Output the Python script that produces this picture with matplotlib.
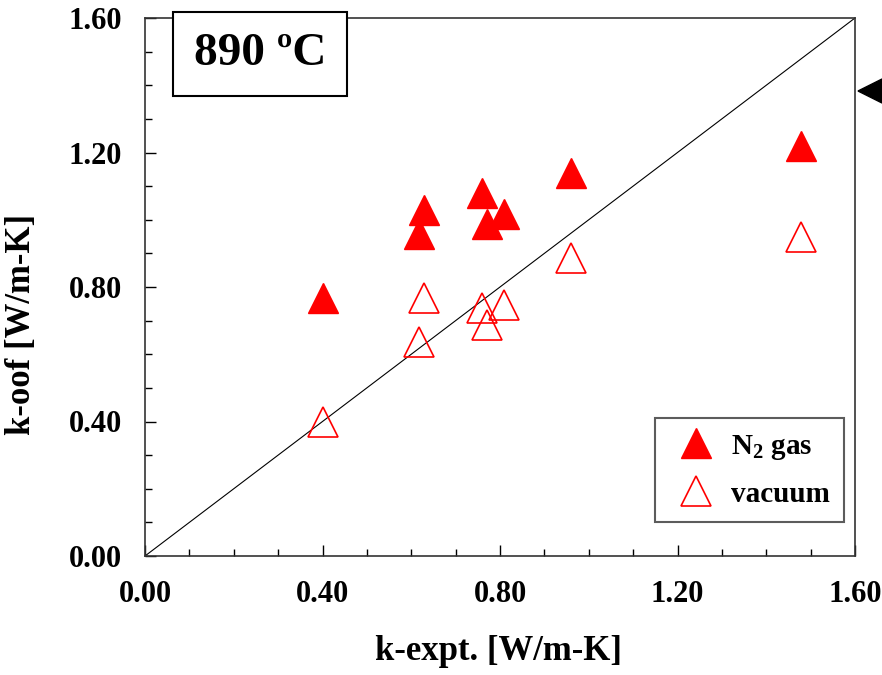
import matplotlib
matplotlib.use("Agg")
import matplotlib.pyplot as plt
from matplotlib.patches import Polygon
import numpy as np

# Data
k_expt = [0.40, 0.617, 0.629, 0.759, 0.770, 0.809, 0.959, 1.478]
k_oof_n2 = [0.767, 0.958, 1.029, 1.080, 0.987, 1.017, 1.139, 1.219]
k_expt_vac = [0.40, 0.617, 0.629, 0.759, 0.770, 0.809, 0.959, 1.478]
k_oof_vac = [0.399, 0.636, 0.767, 0.738, 0.687, 0.746, 0.886, 0.949]
ticks = [0.0, 0.4, 0.8, 1.2, 1.6]
tick_labels = ["0.00", "0.40", "0.80", "1.20", "1.60"]

plt.rcParams['font.family'] = ['Liberation Serif', 'DejaVu Serif']
plt.rcParams['font.weight'] = 'bold'
plt.rcParams['mathtext.fontset'] = 'custom'
plt.rcParams['mathtext.rm'] = 'Liberation Serif:bold'
plt.rcParams['mathtext.bf'] = 'Liberation Serif:bold'
plt.rcParams['mathtext.it'] = 'Liberation Serif:bold'
plt.rcParams['mathtext.default'] = 'bf'

W, H = 882, 675
fig = plt.figure(figsize=(W / 100, H / 100), dpi=100)
ax = fig.add_axes([145 / W, (H - 556) / H, (855 - 145) / W, (556 - 18) / H])

ax.plot([0, 1.6], [0, 1.6], color='black', lw=0.8, zorder=1)
ax.plot(k_expt, k_oof_n2, ls='none', marker='^', ms=21, color='red',
        markeredgecolor='red', label=r'N$_{2}$ gas', zorder=3, clip_on=False)
ax.plot(k_expt_vac, k_oof_vac, ls='none', marker='^', ms=21, markerfacecolor='none',
        markeredgecolor='red', markeredgewidth=1.2, label='vacuum', zorder=3, clip_on=False)

ax.set_xlim(0, 1.6)
ax.set_ylim(0, 1.6)
ax.set_xticks(ticks)
ax.set_xticklabels(tick_labels)
ax.set_yticks(ticks)
ax.set_yticklabels(tick_labels)
ax.set_xticks(np.arange(0, 1.61, 0.1), minor=True)
ax.set_yticks(np.arange(0, 1.61, 0.1), minor=True)
ax.tick_params(which='major', direction='in', length=8, width=1, labelsize=22)
ax.tick_params(which='minor', direction='in', length=5, width=1)
ax.tick_params(axis='x', which='major', pad=17)
ax.tick_params(axis='y', which='major', pad=16.5)
for s in ax.spines.values():
    s.set_linewidth(1.2)
    s.set_color('#333333')

ax.set_xlabel('k-expt. [W/m-K]', fontsize=25, fontweight='bold')
ax.xaxis.set_label_coords(0.498, -0.178)
ax.xaxis.label.set_va('center')
ax.set_ylabel('k-oof [W/m-K]', fontsize=25, fontweight='bold')
ax.yaxis.set_label_coords(-0.151, 0.43)

leg = ax.legend(loc='lower right', fontsize=21, frameon=True, fancybox=False,
                edgecolor='#333333', borderpad=0.5, handletextpad=0.3,
                labelspacing=0.65, bbox_to_anchor=(0.985, 0.063), borderaxespad=0,
                handlelength=1.8)
leg.get_frame().set_linewidth(1.5)

ax.text(0.162, 0.933, '890 ºC', transform=ax.transAxes, fontsize=34, fontweight='bold',
        ha='center', va='center',
        bbox=dict(boxstyle='square,pad=0.45', facecolor='white', edgecolor='black', linewidth=1.5))

arrow = Polygon([[858 / W, 1 - 91 / H], [882 / W, 1 - 79 / H], [882 / W, 1 - 103 / H]],
                closed=True, transform=fig.transFigure, facecolor='black', edgecolor='black')
fig.patches.append(arrow)

fig.savefig('out.png', dpi=100)
